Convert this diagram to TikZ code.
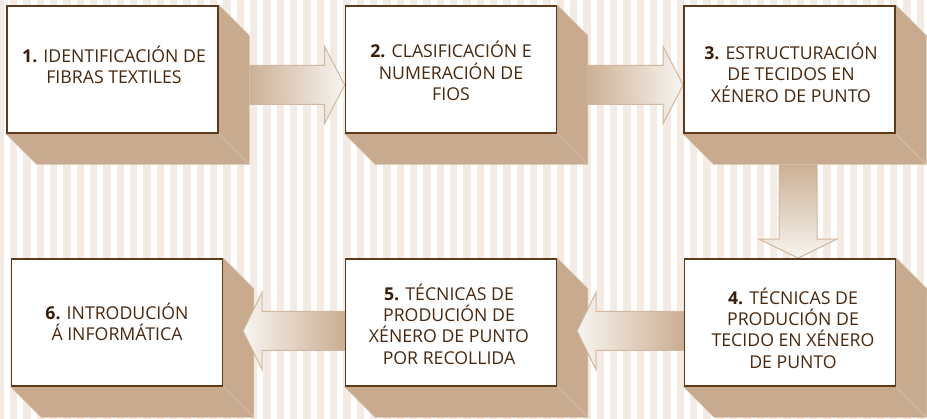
\documentclass[tikz,border=0pt]{standalone}
\usepackage{fontspec}
\setmainfont{Open Sans}
\usetikzlibrary{calc}
\definecolor{stripe}{RGB}{243,235,228}
\definecolor{shadowc}{RGB}{200,171,142}
\definecolor{shadowedge}{RGB}{216,196,175}
\definecolor{boxborder}{RGB}{94,58,28}
\definecolor{txtc}{RGB}{74,40,14}
\definecolor{numc}{RGB}{58,28,8}
\definecolor{arrowedge}{RGB}{208,183,157}
\definecolor{arrowdark}{RGB}{201,172,143}
\definecolor{arrowlight}{RGB}{248,245,241}
\pgfdeclarelayer{stripes}
\pgfdeclarelayer{backarrows}
\pgfdeclarelayer{shadows}
\pgfdeclarelayer{frontarrows}
\pgfsetlayers{stripes,backarrows,shadows,frontarrows,main}
\tikzset{
  stepbox/.style={draw=boxborder, line width=1.8pt, fill=white, inner sep=0pt,
    minimum width=211, minimum height=127},
  steptext/.style={align=center, inner sep=0pt, text=txtc,
    font=\fontsize{17.7}{21.3}\selectfont},
  extrude/.style={fill=shadowc, draw=shadowedge, line width=0.6pt},
  extrudeedge/.style={draw=shadowedge, line width=0.6pt},
  blockarrow/.style={draw=arrowedge, line width=1pt, line join=miter}
}
\newcommand\stepnum[1]{{\color{numc}\bfseries #1}}
\newcommand\extrusion[1]{%
  \fill[extrude] (#1.south west) -- ($(#1.south west)+(30.5,30.5)$)
    -- ($(#1.south east)+(30.5,30.5)$) -- ($(#1.north east)+(30.5,30.5)$)
    -- (#1.north east) -- cycle;
  \draw[extrudeedge] (#1.south east) -- ($(#1.south east)+(30.5,30.5)$);}
\newcommand\rightblock[2]{%
  \path[blockarrow, left color=arrowdark, right color=arrowlight]
    ($(#1)+(0,-19.5)$) -- ($(#2)+(-20,-19.5)$) -- ($(#2)+(-20,-38.5)$) -- (#2)
    -- ($(#2)+(-20,38.5)$) -- ($(#2)+(-20,19.5)$) -- ($(#1)+(0,19.5)$) -- cycle;}
\newcommand\leftblock[2]{%
  \path[blockarrow, left color=arrowlight, right color=arrowdark]
    ($(#1)+(0,-19.5)$) -- ($(#2)+(19,-19.5)$) -- ($(#2)+(19,-38.5)$) -- (#2)
    -- ($(#2)+(19,38.5)$) -- ($(#2)+(19,19.5)$) -- ($(#1)+(0,19.5)$) -- cycle;}
\newcommand\downblock[2]{%
  \path[blockarrow, top color=arrowdark, bottom color=arrowlight]
    ($(#1)+(-19,0)$) -- ($(#2)+(-19,-19)$) -- ($(#2)+(-39,-19)$) -- (#2)
    -- ($(#2)+(39,-19)$) -- ($(#2)+(19,-19)$) -- ($(#1)+(19,0)$) -- cycle;}
\begin{document}
\begin{tikzpicture}[x=1pt, y=-1pt]
\useasboundingbox (0,0) rectangle (927,419);
\begin{pgfonlayer}{stripes}
  \fill[white] (0,0) rectangle (927,419);
  \foreach \k in {-1,...,68} \fill[stripe] ({10+13.3333*\k},0) rectangle ++(7.3,419);
\end{pgfonlayer}
% boxes
\node[stepbox] (b1) at (112.5,69.5) {};
\node[stepbox] (b2) at (451,69.5) {};
\node[stepbox] (b3) at (789.5,69.5) {};
\node[stepbox] (b4) at (790,322.5) {};
\node[stepbox] (b5) at (451,322.5) {};
\node[stepbox] (b6) at (117,322.5) {};
% texts
\node[steptext] (t1) at (114,65) {\stepnum{1.} IDENTIFICACIÓN DE\\FIBRAS TEXTILES};
\node[steptext] (t2) at (451,71) {\stepnum{2.} CLASIFICACIÓN E\\NUMERACIÓN DE\\FIOS};
\node[steptext] (t3) at (791,72.6) {\stepnum{3.} ESTRUCTURACIÓN\\DE TECIDOS EN\\XÉNERO DE PUNTO};
\node[steptext] (t4) at (793,328) {\stepnum{4.} TÉCNICAS DE\\PRODUCIÓN DE\\TECIDO EN XÉNERO\\DE PUNTO};
\node[steptext] (t5) at (449,324) {\stepnum{5.} TÉCNICAS DE\\PRODUCIÓN DE\\XÉNERO DE PUNTO\\POR RECOLLIDA};
\node[steptext] (t6) at (117,322) {\stepnum{6.} INTRODUCIÓN\\Á INFORMÁTICA};
% arrow end points
\coordinate (a1s) at (244,85);
\coordinate (a1t) at (b2.west |- a1s);
\coordinate (a2s) at (582,85);
\coordinate (a2t) at (b3.west |- a2s);
\coordinate (a3s) at (798,160);
\coordinate (a3t) at (a3s |- b4.north);
\coordinate (a4s) at (686,331);
\coordinate (a4t) at (577,331);
\coordinate (a5s) at (347,331);
\coordinate (a5t) at (243,331);
\begin{pgfonlayer}{backarrows}
  \rightblock{a1s}{a1t}
  \rightblock{a2s}{a2t}
  \downblock{a3s}{a3t}
\end{pgfonlayer}
\begin{pgfonlayer}{shadows}
  \extrusion{b1}\extrusion{b2}\extrusion{b3}
  \extrusion{b4}\extrusion{b5}\extrusion{b6}
\end{pgfonlayer}
\begin{pgfonlayer}{frontarrows}
  \leftblock{a4s}{a4t}
  \leftblock{a5s}{a5t}
\end{pgfonlayer}
\end{tikzpicture}
\end{document}
